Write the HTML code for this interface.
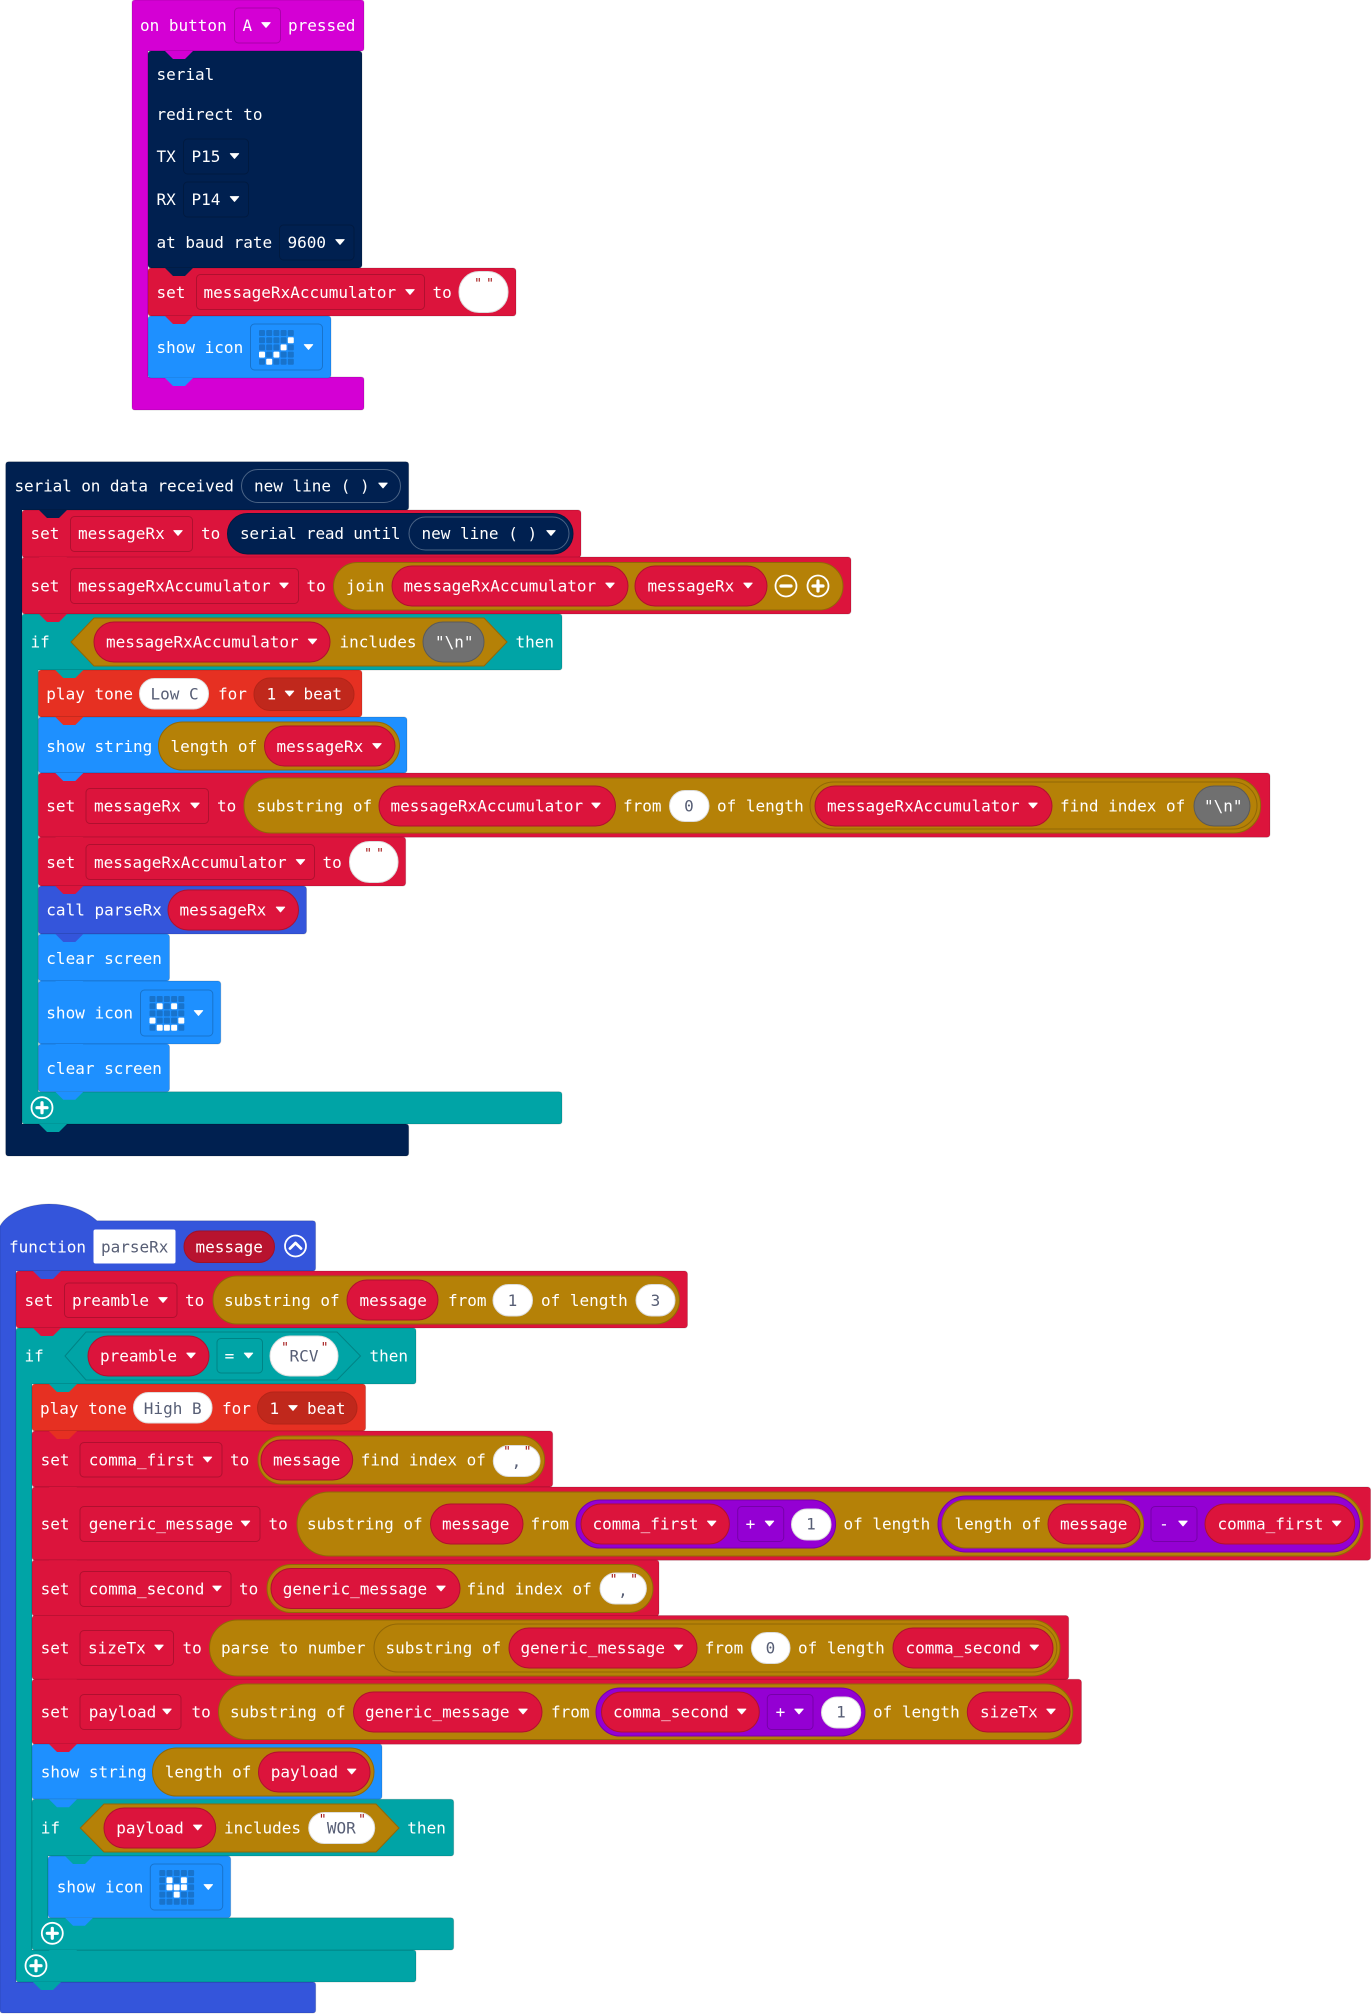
<!DOCTYPE html>
<html><head><meta charset="utf-8"><style>
html,body{margin:0;padding:0;background:#fff}
svg{display:block;filter:blur(.35px)}
text{font-family:"DejaVu Sans Mono","Liberation Mono",monospace;font-size:16px;fill:#fff;white-space:pre}
text.d{fill:#575e75}
text.q{fill:#a31515;font-size:13px}
text.c{text-anchor:middle}
.o{stroke:#000;stroke-opacity:.14;stroke-width:1}
.mg{fill:#d400d4}.nv{fill:#002050}.rd{fill:#dc143c}.bl{fill:#1e90ff}.te{fill:#00a4a6}.to{fill:#e63022}.fn{fill:#3455db}
.ddm{fill:#d400d4;stroke:#aa00aa}.ddn{fill:#002050;stroke:#001a40}.ddr{fill:#dc143c;stroke:#b0102f}.ddb{fill:#1e90ff;stroke:#1873cc}.ddt{fill:#00a4a6;stroke:#008385}.ddp{fill:#9400d3;stroke:#7600a9}
.pr{fill:#dc143c;stroke:#b0102f}.pg{fill:#b58107;stroke:#916706}.pp{fill:#9400d3;stroke:#7600a9}.pw{fill:#fff;stroke:#ddd}.pn{fill:#002050;stroke:#001a40}.py{fill:#707070;stroke:#5a5a5a}.pd{fill:#c0281c;stroke:#b32418}.pf{fill:#b8132f;stroke:#a01028}
.lon{fill:#fff}.lo{fill:#1873cc}
</style></head><body>
<svg xmlns="http://www.w3.org/2000/svg" width="1371" height="2014" viewBox="0 0 1371 2014">
<defs>
<path id="tab" d="M17 0l8 8h12l8-8z"/>
<path id="a" d="M-4.2-2.4h8.4l-4.2 4.8z" fill="#fff" stroke="#fff" stroke-width="1" stroke-linejoin="round"/>
<g id="p"><circle r="10.5" fill="none" stroke="#fff" stroke-width="1.8"/><path d="M-5 0H5M0-5V5" stroke="#fff" stroke-width="3.2" stroke-linecap="round"/></g>
<g id="g" class="lo"><rect width="6" height="6" rx="1"/><rect x="7.2" width="6" height="6" rx="1"/><rect x="14.4" width="6" height="6" rx="1"/><rect x="21.6" width="6" height="6" rx="1"/><rect x="28.8" width="6" height="6" rx="1"/><rect y="7.2" width="6" height="6" rx="1"/><rect x="7.2" y="7.2" width="6" height="6" rx="1"/><rect x="14.4" y="7.2" width="6" height="6" rx="1"/><rect x="21.6" y="7.2" width="6" height="6" rx="1"/><rect x="28.8" y="7.2" width="6" height="6" rx="1"/><rect y="14.4" width="6" height="6" rx="1"/><rect x="7.2" y="14.4" width="6" height="6" rx="1"/><rect x="14.4" y="14.4" width="6" height="6" rx="1"/><rect x="21.6" y="14.4" width="6" height="6" rx="1"/><rect x="28.8" y="14.4" width="6" height="6" rx="1"/><rect y="21.6" width="6" height="6" rx="1"/><rect x="7.2" y="21.6" width="6" height="6" rx="1"/><rect x="14.4" y="21.6" width="6" height="6" rx="1"/><rect x="21.6" y="21.6" width="6" height="6" rx="1"/><rect x="28.8" y="21.6" width="6" height="6" rx="1"/><rect y="28.8" width="6" height="6" rx="1"/><rect x="7.2" y="28.8" width="6" height="6" rx="1"/><rect x="14.4" y="28.8" width="6" height="6" rx="1"/><rect x="21.6" y="28.8" width="6" height="6" rx="1"/><rect x="28.8" y="28.8" width="6" height="6" rx="1"/></g>
</defs>

<!-- BLOCK 1 -->
<path class="mg o" d="M135 0H361q3 0 3 3V48q0 3-3 3H148V377H361q3 0 3 3V407q0 3-3 3H135q-3 0-3-3V3q0-3 3-3z"/>
<rect class="nv o" x="148" y="51" width="214" height="217" rx="3"/>
<rect class="rd o" x="148" y="268" width="368" height="48" rx="3"/>
<rect class="bl o" x="148" y="316" width="183" height="62" rx="3"/>
<use href="#tab" x="148" y="51" class="mg"/><use href="#tab" x="148" y="268" class="nv"/><use href="#tab" x="148" y="316" class="rd"/><use href="#tab" x="148" y="378" class="bl"/>
<text x="140" y="31">on button</text>
<rect class="ddm" x="234.5" y="8" width="46" height="35" rx="4"/><text x="242.5" y="31">A</text><use href="#a" x="266" y="25"/>
<text x="288" y="31">pressed</text>
<text x="156.5" y="80">serial</text>
<text x="156.5" y="120">redirect to</text>
<text x="156.5" y="162">TX</text>
<rect class="ddn" x="183.5" y="139" width="65" height="35" rx="4"/><text x="191.5" y="162">P15</text><use href="#a" x="234.5" y="156"/>
<text x="156.5" y="205">RX</text>
<rect class="ddn" x="183.5" y="182" width="65" height="35" rx="4"/><text x="191.5" y="205">P14</text><use href="#a" x="234.5" y="199"/>
<text x="156.5" y="248">at baud rate</text>
<rect class="ddn" x="279.5" y="225" width="74.5" height="35" rx="4"/><text x="287.5" y="248">9600</text><use href="#a" x="340" y="242"/>
<text x="156.5" y="298">set</text>
<rect class="ddr" x="196.5" y="274.5" width="228" height="35" rx="4"/><text x="203.5" y="298">messageRxAccumulator</text><use href="#a" x="410" y="292"/>
<text x="432.5" y="298">to</text>
<rect class="pw" x="459" y="271.5" width="49" height="41" rx="20"/><text class="q c" x="478" y="288">"</text><text class="q c" x="490" y="288">"</text>
<text x="156.5" y="353">show icon</text>
<rect class="ddb" x="250.5" y="324" width="72" height="46" rx="4"/>
<use href="#g" x="259" y="330"/>
<g class="lon"><rect x="287.8" y="337.2" width="6" height="6" rx="1"/><rect x="280.6" y="344.4" width="6" height="6" rx="1"/><rect x="259" y="351.6" width="6" height="6" rx="1"/><rect x="273.4" y="351.6" width="6" height="6" rx="1"/><rect x="266.2" y="358.8" width="6" height="6" rx="1"/></g>
<use href="#a" x="308.5" y="347"/>

<!-- BLOCK 2 -->
<path class="nv o" d="M8.7 461.7H405.7q3 0 3 3V507q0 3-3 3H22V1124H405.7q3 0 3 3V1153q0 3-3 3H8.7q-3 0-3-3V464.7q0-3 3-3z"/>
<rect class="rd o" x="22" y="510" width="559" height="47.5" rx="3"/>
<rect class="rd o" x="22" y="557" width="829" height="57" rx="3"/>
<path class="te o" d="M25 614H559q3 0 3 3V667q0 3-3 3H38.3V1091.7H559q3 0 3 3V1121q0 3-3 3H25q-3 0-3-3V617q0-3 3-3z"/>
<rect class="to o" x="38.3" y="670" width="323.7" height="47" rx="3"/>
<rect class="bl o" x="38.3" y="717" width="368.7" height="56" rx="3"/>
<rect class="rd o" x="38.3" y="773" width="1231.7" height="64.3" rx="3"/>
<rect class="rd o" x="38.3" y="837" width="367.4" height="49" rx="3"/>
<rect class="fn o" x="38.3" y="886" width="268.2" height="48" rx="3"/>
<rect class="bl o" x="38.3" y="934" width="131.2" height="47" rx="3"/>
<rect class="bl o" x="38.3" y="981" width="182.5" height="63" rx="3"/>
<rect class="bl o" x="38.3" y="1044" width="131.2" height="47.7" rx="3"/>
<use href="#tab" x="22" y="510" class="nv"/><use href="#tab" x="22" y="557" class="rd"/><use href="#tab" x="22" y="614" class="rd"/>
<use href="#tab" x="38.3" y="670" class="te"/><use href="#tab" x="38.3" y="717" class="to"/><use href="#tab" x="38.3" y="773" class="bl"/><use href="#tab" x="38.3" y="837" class="rd"/><use href="#tab" x="38.3" y="886" class="rd"/><use href="#tab" x="38.3" y="934" class="fn"/><use href="#tab" x="38.3" y="981" class="bl"/><use href="#tab" x="38.3" y="1044" class="bl"/><use href="#tab" x="38.3" y="1091.7" class="bl"/><use href="#tab" x="22" y="1124" class="te"/>

<text x="14.5" y="491.5" letter-spacing="-.1">serial on data received</text>
<rect class="pn" style="stroke:#4a6385" x="241.5" y="469.5" width="159" height="33" rx="16.5"/><text x="254" y="491.5">new line ( )</text><use href="#a" x="383" y="485.5"/>

<text x="30.5" y="539">set</text>
<rect class="ddr" x="70.5" y="516.5" width="122" height="35" rx="4"/><text x="78" y="539">messageRx</text><use href="#a" x="178" y="533"/>
<text x="201" y="539">to</text>
<rect class="pn" x="227.5" y="513.5" width="345.5" height="40.5" rx="20"/><text x="240" y="539" letter-spacing="-.2">serial read until</text>
<rect class="pn" style="stroke:#4a6385" x="409" y="517" width="160" height="33" rx="16.5"/><text x="421.5" y="539">new line ( )</text><use href="#a" x="551" y="533"/>

<text x="30.5" y="591.5">set</text>
<rect class="ddr" x="70.5" y="568.5" width="228" height="35" rx="4"/><text x="78" y="591.5">messageRxAccumulator</text><use href="#a" x="284" y="585.5"/>
<text x="306.5" y="591.5">to</text>
<rect class="pg" x="333.5" y="562.5" width="509.5" height="47.5" rx="23.7"/><text x="346" y="591.5">join</text>
<rect class="pr" x="392" y="566" width="236" height="40" rx="20"/><text x="403.5" y="591.5">messageRxAccumulator</text><use href="#a" x="610" y="585.5"/>
<rect class="pr" x="635" y="566" width="132" height="40" rx="20"/><text x="647.5" y="591.5">messageRx</text><use href="#a" x="748" y="585.5"/>
<g transform="translate(786 586)"><circle r="10.5" fill="none" stroke="#fff" stroke-width="1.8"/><path d="M-5 0H5" stroke="#fff" stroke-width="3.2" stroke-linecap="round"/></g>
<use href="#p" x="818" y="586"/>

<text x="30.5" y="647.5">if</text>
<polygon class="pg" points="71,642 94,618 484,618 507,642 484,666 94,666"/>
<rect class="pr" x="94" y="622" width="236" height="40" rx="20"/><text x="106" y="647.5">messageRxAccumulator</text><use href="#a" x="312.5" y="641.5"/>
<text x="339.5" y="647.5">includes</text>
<rect class="py" x="423" y="622" width="61" height="40" rx="20"/><text x="435" y="647.5">"\n"</text>
<text x="515.5" y="647.5">then</text>

<text x="46.3" y="699.5">play tone</text>
<rect class="pw" x="139.5" y="678.5" width="69" height="30.5" rx="15"/><text class="d" x="150.5" y="699.5">Low C</text>
<text x="218" y="699.5">for</text>
<rect class="pd" x="254" y="678" width="100" height="32.5" rx="16"/><text x="266.5" y="699.5">1</text><use href="#a" x="289.5" y="693.5"/><text x="303.5" y="699.5">beat</text>

<text x="46.3" y="752">show string</text>
<rect class="pg" x="158.5" y="722" width="241" height="48" rx="24"/><text x="170.5" y="752">length of</text>
<rect class="pr" x="264.5" y="726" width="130.5" height="40" rx="20"/><text x="276.5" y="752">messageRx</text><use href="#a" x="377" y="746"/>

<text x="46.3" y="811.5">set</text>
<rect class="ddr" x="86" y="788.5" width="122.5" height="35" rx="4"/><text x="94" y="811.5">messageRx</text><use href="#a" x="195" y="805.5"/>
<text x="217" y="811.5">to</text>
<rect class="pg" x="244" y="778" width="1016.6" height="55" rx="27"/><text x="256.5" y="811.5">substring of</text>
<rect class="pr" x="379" y="786" width="236.5" height="40" rx="20"/><text x="390.5" y="811.5">messageRxAccumulator</text><use href="#a" x="596" y="805.5"/>
<text x="623" y="811.5">from</text>
<rect class="pw" x="669.5" y="790.5" width="39.5" height="31" rx="15.5"/><text class="d c" x="689" y="811.5">0</text>
<text x="717" y="811.5">of length</text>
<rect class="pg" x="810" y="782" width="447" height="47" rx="23.5"/>
<rect class="pr" x="815" y="786" width="237" height="40" rx="20"/><text x="827" y="811.5">messageRxAccumulator</text><use href="#a" x="1033" y="805.5"/>
<text x="1060" y="811.5">find index of</text>
<rect class="py" x="1194" y="786" width="56" height="40" rx="20"/><text x="1204" y="811.5">"\n"</text>

<text x="46.3" y="868">set</text>
<rect class="ddr" x="86" y="844.5" width="228.5" height="35" rx="4"/><text x="94" y="868">messageRxAccumulator</text><use href="#a" x="300.5" y="862"/>
<text x="322.5" y="868">to</text>
<rect class="pw" x="349.5" y="841.5" width="48.5" height="41" rx="20"/><text class="q c" x="368" y="858">"</text><text class="q c" x="380" y="858">"</text>

<text x="46.3" y="915.5">call parseRx</text>
<rect class="pr" x="168" y="890" width="130.5" height="40" rx="20"/><text x="179.5" y="915.5">messageRx</text><use href="#a" x="280.5" y="909.5"/>

<text x="46.3" y="964">clear screen</text>

<text x="46.3" y="1018.5">show icon</text>
<rect class="ddb" x="140.5" y="990" width="72.3" height="46" rx="4"/>
<use href="#g" x="149.5" y="996"/>
<g class="lon"><rect x="156.7" y="1003.2" width="6" height="6" rx="1"/><rect x="171.1" y="1003.2" width="6" height="6" rx="1"/><rect x="149.5" y="1017.6" width="6" height="6" rx="1"/><rect x="178.3" y="1017.6" width="6" height="6" rx="1"/><rect x="156.7" y="1024.8" width="6" height="6" rx="1"/><rect x="163.9" y="1024.8" width="6" height="6" rx="1"/><rect x="171.1" y="1024.8" width="6" height="6" rx="1"/></g>
<use href="#a" x="198.5" y="1013"/>

<text x="46.3" y="1074">clear screen</text>
<use href="#p" x="42" y="1107.7"/>

<!-- BLOCK 3 -->
<path class="fn o" d="M0 1226C8 1212 30 1204 49 1204C68 1204 85 1210 97 1220.7H312.6q3 0 3 3V1268q0 3-3 3H16V1982H312.7q3 0 3 3V2010q0 3-3 3H3q-3 0-3-3z"/>
<rect class="rd o" x="16" y="1271" width="671.5" height="57" rx="3"/>
<path class="te o" d="M19 1328H413q3 0 3 3V1381q0 3-3 3H32V1950H413q3 0 3 3V1979q0 3-3 3H19q-3 0-3-3V1331q0-3 3-3z"/>
<rect class="to o" x="32" y="1384" width="333.6" height="47" rx="3"/>
<rect class="rd o" x="32" y="1431" width="520.7" height="56" rx="3"/>
<rect class="rd o" x="32" y="1487" width="1338.6" height="73.3" rx="3"/>
<rect class="rd o" x="32" y="1560" width="627" height="56" rx="3"/>
<rect class="rd o" x="32" y="1615.5" width="1036.7" height="64" rx="3"/>
<rect class="rd o" x="32" y="1679.3" width="1049.5" height="65" rx="3"/>
<rect class="bl o" x="32" y="1744" width="350" height="55.3" rx="3"/>
<path class="te o" d="M35 1799.3H450.7q3 0 3 3V1853q0 3-3 3H48V1917.7H450.7q3 0 3 3V1947q0 3-3 3H35q-3 0-3-3V1802.3q0-3 3-3z"/>
<rect class="bl o" x="48" y="1856" width="182.7" height="61.7" rx="3"/>
<use href="#tab" x="16" y="1271" class="fn"/><use href="#tab" x="16" y="1328" class="rd"/><use href="#tab" x="32" y="1384" class="te"/><use href="#tab" x="32" y="1431" class="to"/><use href="#tab" x="32" y="1487" class="rd"/><use href="#tab" x="32" y="1560.3" class="rd"/><use href="#tab" x="32" y="1616" class="rd"/><use href="#tab" x="32" y="1679.3" class="rd"/><use href="#tab" x="32" y="1744" class="rd"/><use href="#tab" x="32" y="1799.3" class="bl"/><use href="#tab" x="48" y="1856" class="te"/><use href="#tab" x="48" y="1917.7" class="bl"/><use href="#tab" x="32" y="1950" class="te"/><use href="#tab" x="16" y="1982" class="te"/>

<text x="9" y="1252.5">function</text>
<rect x="93.5" y="1229.5" width="82" height="34" rx="2" fill="#fff"/><text class="d" x="101" y="1252.5">parseRx</text>
<rect class="pf" x="184" y="1231" width="90.5" height="31.5" rx="15.7"/><text x="195.5" y="1252.5">message</text>
<g transform="translate(295.5 1246)"><circle r="10.5" fill="none" stroke="#fff" stroke-width="1.8"/><path d="M-5.5 2.5L0-3 5.5 2.5" fill="none" stroke="#fff" stroke-width="2.8" stroke-linecap="round" stroke-linejoin="round"/></g>

<text x="24.5" y="1306">set</text>
<rect class="ddr" x="64.5" y="1283" width="112.5" height="34.5" rx="4"/><text x="72" y="1306">preamble</text><use href="#a" x="163" y="1300"/>
<text x="185" y="1306">to</text>
<rect class="pg" x="213" y="1276" width="466.5" height="48" rx="24"/><text x="224" y="1306">substring of</text>
<rect class="pr" x="347" y="1280" width="91" height="40" rx="20"/><text x="359.5" y="1306">message</text>
<text x="448" y="1306">from</text>
<rect class="pw" x="493" y="1284.5" width="39.5" height="31.5" rx="15.7"/><text class="d c" x="512.5" y="1306">1</text>
<text x="541" y="1306">of length</text>
<rect class="pw" x="636" y="1284.5" width="39" height="31.5" rx="15.7"/><text class="d c" x="655.5" y="1306">3</text>

<text x="24.5" y="1361.5">if</text>
<polygon points="65,1356 86,1332 337,1332 360.5,1356 337,1380 86,1380" fill="#00a4a6" stroke="#008385"/>
<rect class="pr" x="88" y="1336" width="121" height="40" rx="20"/><text x="100" y="1361.5">preamble</text><use href="#a" x="191" y="1355.5"/>
<rect class="ddt" x="217" y="1338.5" width="45.5" height="34.5" rx="4"/><text class="c" x="229.5" y="1361.5">=</text><use href="#a" x="248.5" y="1355.5"/>
<rect class="pw" x="270" y="1336" width="68" height="40" rx="20"/><text class="d c" x="304" y="1361.5">RCV</text><text class="q c" x="285" y="1352">"</text><text class="q c" x="324.5" y="1352">"</text>
<text x="369.5" y="1361.5">then</text>

<text x="40" y="1414">play tone</text>
<rect class="pw" x="133.5" y="1392.5" width="78.5" height="30.5" rx="15"/><text class="d" x="143.8" y="1414">High B</text>
<text x="222" y="1414">for</text>
<rect class="pd" x="257.5" y="1392" width="99.5" height="32" rx="16"/><text x="269.5" y="1414">1</text><use href="#a" x="293" y="1408"/><text x="307" y="1414">beat</text>

<text x="40.6" y="1465.5">set</text>
<rect class="ddr" x="80" y="1442.5" width="142" height="34.5" rx="4"/><text x="88.8" y="1465.5">comma_first</text><use href="#a" x="207.5" y="1459.5"/>
<text x="230" y="1465.5">to</text>
<rect class="pg" x="258" y="1436" width="286.6" height="48" rx="24"/>
<rect class="pr" x="261" y="1440" width="91.7" height="40" rx="20"/><text x="273" y="1465.5">message</text>
<text x="360.7" y="1465.5">find index of</text>
<rect class="pw" x="493.3" y="1445.5" width="46.7" height="31" rx="15.5"/><text class="d c" x="516.5" y="1467">,</text><text class="q c" x="507" y="1456">"</text><text class="q c" x="527.5" y="1456">"</text>

<text x="40.6" y="1529.5">set</text>
<rect class="ddr" x="80" y="1506.5" width="180" height="35" rx="4"/><text x="88.8" y="1529.5">generic_message</text><use href="#a" x="245.5" y="1523.5"/>
<text x="268.5" y="1529.5">to</text>
<rect class="pg" x="297" y="1492" width="1066" height="64" rx="32"/><text x="307" y="1529.5">substring of</text>
<rect class="pr" x="430.5" y="1504" width="92.5" height="40" rx="20"/><text x="442" y="1529.5">message</text>
<text x="530.5" y="1529.5">from</text>
<rect class="pp" x="576" y="1500" width="259.6" height="48" rx="24"/>
<rect class="pr" x="581" y="1504" width="148.4" height="40" rx="20"/><text x="592.5" y="1529.5">comma_first</text><use href="#a" x="711.7" y="1523.5"/>
<rect class="ddp" x="737.7" y="1506.5" width="46" height="35" rx="4"/><text class="c" x="750.5" y="1529.5">+</text><use href="#a" x="769.5" y="1523.5"/>
<rect class="pw" x="791.5" y="1509" width="39.5" height="31" rx="15.5"/><text class="d c" x="811" y="1529.5">1</text>
<text x="843.5" y="1529.5">of length</text>
<rect class="pp" x="938" y="1496" width="421.6" height="56" rx="28"/>
<rect class="pg" x="942" y="1500" width="201.6" height="48" rx="24"/><text x="954.5" y="1529.5">length of</text>
<rect class="pr" x="1048" y="1504" width="92" height="40" rx="20"/><text x="1060" y="1529.5">message</text>
<rect class="ddp" x="1151" y="1506.5" width="46" height="35" rx="4"/><text class="c" x="1164" y="1529.5">-</text><use href="#a" x="1183" y="1523.5"/>
<rect class="pr" x="1205" y="1504" width="149.7" height="40" rx="20"/><text x="1217.5" y="1529.5">comma_first</text><use href="#a" x="1336.7" y="1523.5"/>

<text x="40.6" y="1594.5">set</text>
<rect class="ddr" x="80" y="1571.5" width="151" height="35" rx="4"/><text x="88.8" y="1594.5">comma_second</text><use href="#a" x="217" y="1588.5"/>
<text x="239" y="1594.5">to</text>
<rect class="pg" x="267" y="1564.5" width="386" height="48" rx="24"/>
<rect class="pr" x="271" y="1568.5" width="189" height="40" rx="20"/><text x="282.7" y="1594.5">generic_message</text><use href="#a" x="441" y="1588.5"/>
<text x="466.5" y="1594.5">find index of</text>
<rect class="pw" x="600" y="1573" width="46.4" height="31" rx="15.5"/><text class="d c" x="623" y="1596">,</text><text class="q c" x="613.5" y="1584">"</text><text class="q c" x="634" y="1584">"</text>

<text x="40.6" y="1653.5">set</text>
<rect class="ddr" x="80" y="1630.5" width="93.5" height="35" rx="4"/><text x="88" y="1653.5">sizeTx</text><use href="#a" x="159" y="1647.5"/>
<text x="182.5" y="1653.5">to</text>
<rect class="pg" x="209.5" y="1620" width="850.5" height="56" rx="28"/><text x="221" y="1653.5">parse to number</text>
<rect class="pg" x="374" y="1624" width="682.8" height="48" rx="24"/><text x="385.5" y="1653.5">substring of</text>
<rect class="pr" x="509" y="1628" width="188" height="40" rx="20"/><text x="520.5" y="1653.5">generic_message</text><use href="#a" x="678.5" y="1647.5"/>
<text x="704.7" y="1653.5">from</text>
<rect class="pw" x="751.4" y="1632.5" width="38.6" height="31" rx="15.5"/><text class="d c" x="770.5" y="1653.5">0</text>
<text x="798" y="1653.5">of length</text>
<rect class="pr" x="893" y="1628" width="160" height="40" rx="20"/><text x="905.5" y="1653.5">comma_second</text><use href="#a" x="1034.3" y="1647.5"/>

<text x="40.6" y="1717.5">set</text>
<rect class="ddr" x="80" y="1694.5" width="101" height="35" rx="4"/><text x="88.8" y="1717.5">payload</text><use href="#a" x="167" y="1711.5"/>
<text x="191.5" y="1717.5">to</text>
<rect class="pg" x="218.5" y="1684" width="854.2" height="55.5" rx="27.7"/><text x="230" y="1717.5">substring of</text>
<rect class="pr" x="353.5" y="1692" width="188.5" height="40" rx="20"/><text x="365" y="1717.5">generic_message</text><use href="#a" x="523" y="1711.5"/>
<text x="551" y="1717.5">from</text>
<rect class="pp" x="596" y="1688" width="269" height="48" rx="24"/>
<rect class="pr" x="601.5" y="1692" width="157.8" height="40" rx="20"/><text x="613" y="1717.5">comma_second</text><use href="#a" x="741.7" y="1711.5"/>
<rect class="ddp" x="767.3" y="1694.5" width="45.7" height="35" rx="4"/><text class="c" x="780.5" y="1717.5">+</text><use href="#a" x="799" y="1711.5"/>
<rect class="pw" x="821.5" y="1697" width="39.2" height="31" rx="15.5"/><text class="d c" x="841" y="1717.5">1</text>
<text x="873" y="1717.5">of length</text>
<rect class="pr" x="967.3" y="1692" width="102.7" height="40" rx="20"/><text x="980" y="1717.5">sizeTx</text><use href="#a" x="1051" y="1711.5"/>

<text x="40.7" y="1777.5">show string</text>
<rect class="pg" x="152.5" y="1748" width="221.5" height="48" rx="24"/><text x="164.7" y="1777.5">length of</text>
<rect class="pr" x="258.5" y="1752" width="111.5" height="40" rx="20"/><text x="270.7" y="1777.5">payload</text><use href="#a" x="351.7" y="1771.5"/>

<text x="40.7" y="1833.5">if</text>
<polygon class="pg" points="80.3,1828 104,1804 376,1804 399,1828 376,1852 104,1852"/>
<rect class="pr" x="104" y="1808" width="111.7" height="40" rx="20"/><text x="116.3" y="1833.5">payload</text><use href="#a" x="197.7" y="1827.5"/>
<text x="224" y="1833.5">includes</text>
<rect class="pw" x="308.7" y="1812.5" width="66" height="31" rx="15.5"/><text class="d c" x="341.3" y="1833.5">WOR</text><text class="q c" x="322.7" y="1824">"</text><text class="q c" x="362" y="1824">"</text>
<text x="407.3" y="1833.5">then</text>

<text x="56.7" y="1892.5">show icon</text>
<rect class="ddb" x="150.3" y="1864" width="72.4" height="46" rx="4"/>
<use href="#g" x="159.3" y="1870"/>
<g class="lon"><rect x="166.5" y="1877.2" width="6" height="6" rx="1"/><rect x="180.9" y="1877.2" width="6" height="6" rx="1"/><rect x="166.5" y="1884.4" width="6" height="6" rx="1"/><rect x="173.7" y="1884.4" width="6" height="6" rx="1"/><rect x="180.9" y="1884.4" width="6" height="6" rx="1"/><rect x="173.7" y="1891.6" width="6" height="6" rx="1"/></g>
<use href="#a" x="208.3" y="1887"/>

<use href="#p" x="52.3" y="1933.3"/>
<use href="#p" x="36" y="1965.7"/>
</svg>
</body></html>
